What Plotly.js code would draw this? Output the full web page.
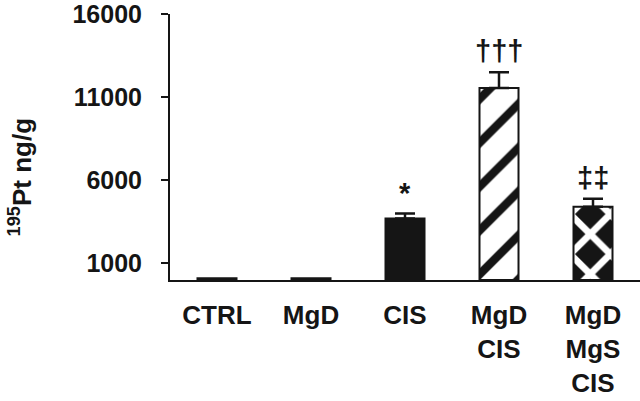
<!DOCTYPE html>
<html>
<head>
<meta charset="utf-8">
<script src="https://cdn.plot.ly/plotly-3.0.1.min.js"></script>
<style>
  html, body { margin: 0; padding: 0; background: #fff; }
  #chart { width: 640px; height: 401px; }
</style>
</head>
<body>
<div id="chart"></div>
<script>
// groups on the x axis
const categories = ['CTRL', 'MgD', 'CIS', 'MgD<br>CIS', 'MgD<br>MgS<br>CIS'];
// mean 195Pt ng/g per group
const means = [100, 100, 3700, 11550, 4400];
// upper error (SEM), no bar shown for the first two
const errors = [null, null, 300, 950, 480];
// significance marks above the bars
const marks = ['', '', '*', '†††', '‡‡'];
const yTicks = [1000, 6000, 11000, 16000];

const FONT = 'Arial, "Liberation Sans", Helvetica, sans-serif';
const INK = '#151515';

// fill style of each bar: open, solid, stripes, diamonds
const fills = [
    { color: '#fff' },
    { color: '#fff' },
    { color: INK },
    { color: '#fff', pattern: { shape: '/', fgcolor: INK, bgcolor: '#fff', size: 31, solidity: 0.27, fillmode: 'replace' } },
    { color: INK, pattern: { shape: 'x', fgcolor: '#fff', bgcolor: INK, size: 28.3, solidity: 0.42, fillmode: 'replace' } }
];

// one trace per bar so each gets its own fill; overlay keeps them centred
const traces = categories.map((c, i) => ({
    x: [c],
    y: [means[i]],
    type: 'bar',
    marker: Object.assign({ line: { color: INK, width: 2 } }, fills[i]),
    error_y: {
        type: 'data',
        symmetric: false,
        array: [errors[i]],
        arrayminus: [0],
        visible: errors[i] != null,
        color: INK,
        thickness: 2.5,
        width: 10
    },
    hoverinfo: 'skip'
}));

// marks sit just above the top of each error bar
const annotations = [];
categories.forEach((c, i) => {
    if (!marks[i]) return;
    annotations.push({
        x: c,
        y: means[i] + (errors[i] || 0),
        xref: 'x', yref: 'y',
        text: '<b>' + marks[i] + '</b>',
        showarrow: false,
        yanchor: 'bottom',
        yshift: 3,
        font: { family: FONT, size: 29, color: INK }
    });
});

// y title as an annotation so it can sit a bit below centre
annotations.push({
    xref: 'paper', yref: 'paper',
    x: -0.319, y: 0.386,
    text: '<b><sup>195</sup>Pt ng/g</b>',
    textangle: -90,
    showarrow: false,
    xanchor: 'center', yanchor: 'middle',
    font: { family: FONT, size: 26, color: INK }
});

const layout = {
    width: 640,
    height: 401,
    margin: { l: 170, r: 0, t: 14, b: 121 },
    paper_bgcolor: '#fff',
    plot_bgcolor: '#fff',
    showlegend: false,
    barmode: 'overlay',
    bargap: 0.585,
    font: { family: FONT, color: INK },
    xaxis: {
        type: 'category',
        categoryarray: categories,
        showline: true,
        linecolor: INK,
        linewidth: 2,
        ticks: '',
        showgrid: false,
        zeroline: false,
        tickfont: { family: FONT, size: 26, color: INK, weight: 'bold' },
        ticklabelstandoff: 11
    },
    yaxis: {
        range: [0, 16000],
        tickvals: yTicks,
        ticktext: yTicks.map(String),
        showline: true,
        linecolor: INK,
        linewidth: 2,
        ticks: 'outside',
        ticklen: 7,
        tickwidth: 2,
        tickcolor: INK,
        showgrid: false,
        zeroline: false,
        tickfont: { family: FONT, size: 25, color: INK, weight: 'bold' },
        ticklabelstandoff: 14,
        ticklabeloverflow: 'allow'
    },
    annotations: annotations
};

Plotly.newPlot('chart', traces, layout, { displayModeBar: false });
</script>
</body>
</html>
